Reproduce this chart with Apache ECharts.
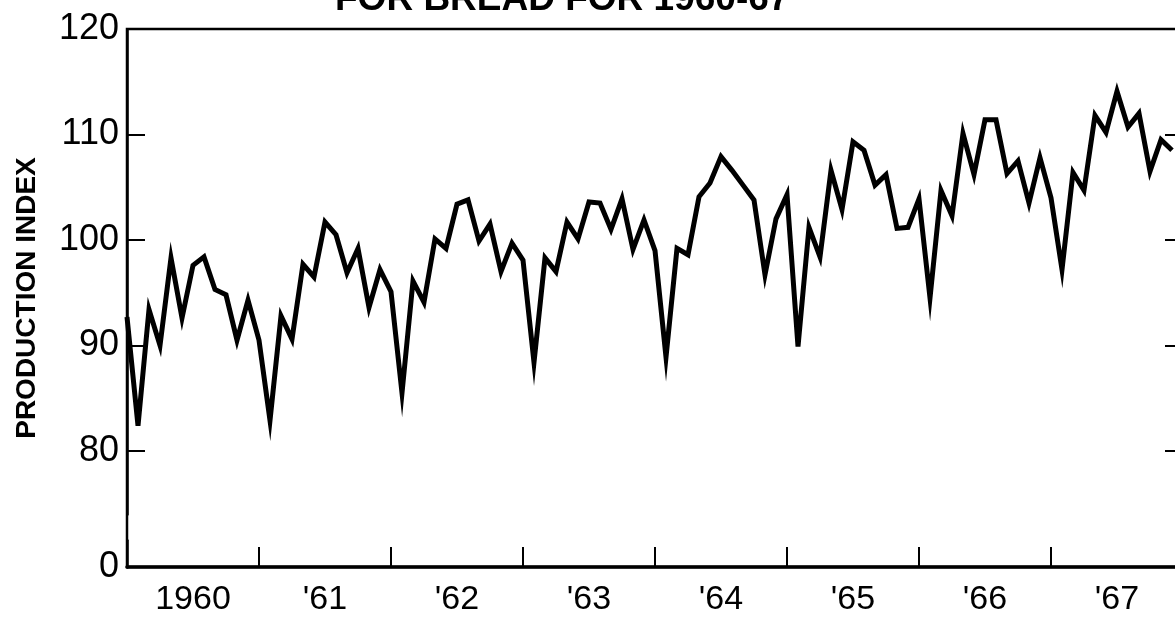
<!DOCTYPE html>
<html lang="en">
<head>
<meta charset="UTF-8">
<title>Production index for bread 1960-67</title>
<script src="https://cdn.jsdelivr.net/npm/echarts@6.0.0/dist/echarts.min.js"></script>
<style>
    html, body { margin: 0; padding: 0; background: #fff; }
    #chart { width: 1175px; height: 628px; }
</style>
</head>
<body>
<div id="chart"></div>
<script type="text/javascript">
    // monthly production index, Jan..Dec
    var v1960 = [92.7, 82.4, 93.4, 90.0, 98.3, 92.6, 97.6, 98.4, 95.3, 94.8, 90.5, 94.3];
    var v1961 = [90.5, 82.9, 92.8, 90.6, 97.7, 96.5, 101.7, 100.5, 96.9, 99.2, 93.6, 97.2];
    var v1962 = [95.1, 85.5, 96.1, 94.1, 100.1, 99.2, 103.4, 103.8, 99.9, 101.5, 97.0, 99.7];
    var v1963 = [98.1, 88.4, 98.3, 97.0, 101.7, 100.1, 103.6, 103.5, 101.0, 103.9, 99.1, 101.9];
    var v1964 = [99.0, 88.9, 99.2, 98.6, 104.1, 105.4, 107.9, 106.6, 105.2, 103.8, 96.7, 102.0];
    var v1965 = [104.3, 89.9, 101.2, 98.4, 106.6, 102.9, 109.3, 108.5, 105.2, 106.2, 101.1, 101.2];
    var v1966 = [103.9, 94.5, 104.7, 102.3, 110.1, 106.2, 111.4, 111.4, 106.3, 107.5, 103.5, 107.8];
    var v1967 = [104.0, 97.2, 106.4, 104.7, 111.8, 110.2, 114.1, 110.7, 112.0, 106.5, 109.5, 108.5];

    var years = [1960, 1961, 1962, 1963, 1964, 1965, 1966, 1967];
    var yearLabels = ['1960', "'61", "'62", "'63", "'64", "'65", "'66", "'67"];
    var yTickValues = [80, 90, 100, 110];
    var yLabelValues = [0, 80, 90, 100, 110, 120];

    var byYear = [v1960, v1961, v1962, v1963, v1964, v1965, v1966, v1967];
    var points = [];
    years.forEach(function (yr, k) {
        byYear[k].forEach(function (v, m) {
            points.push([yr + m / 12, v]);
        });
    });

    var numFont = 'Liberation Sans';
    var yBase = {
        type: 'value',
        min: 0,
        max: 120,
        interval: 10,
        breaks: [{ start: 2.5, end: 74, gap: 2.5 }],
        breakArea: { show: false },
        splitLine: { show: false },
        axisLine: { show: true, lineStyle: { color: '#000', width: 2.5 } },
        axisTick: {
            show: true, inside: true, length: 18,
            customValues: yTickValues,
            lineStyle: { color: '#000', width: 2 }
        }
    };

    var myChart = echarts.init(document.getElementById('chart'));
    myChart.setOption({
        backgroundColor: '#fff',
        animation: false,
        title: {
            text: 'FOR BREAD FOR 1960-67',
            left: 330,
            top: -24,
            textStyle: {
                fontFamily: numFont, fontWeight: 'bold', fontSize: 37,
                lineHeight: 37, color: '#000'
            }
        },
        grid: {
            left: 127, top: 29, right: -8, bottom: 61,
            outerBoundsMode: 'none',
            show: true, borderColor: '#000', borderWidth: 2.5,
            backgroundColor: 'transparent'
        },
        xAxis: [
            {
                type: 'value',
                min: 1960,
                max: 1968,
                interval: 1,
                splitLine: { show: false },
                axisLine: { lineStyle: { color: '#000', width: 3.5 } },
                axisTick: { inside: true, length: 20, lineStyle: { color: '#000', width: 2 } },
                axisLabel: { show: false }
            },
            {
                type: 'category',
                data: yearLabels,
                position: 'bottom',
                boundaryGap: true,
                axisLine: { show: false },
                axisTick: { show: false },
                axisLabel: {
                    margin: 16, color: '#000', fontFamily: numFont, fontSize: 34
                }
            }
        ],
        yAxis: [
            echarts.util.merge({
                position: 'left',
                name: 'PRODUCTION INDEX',
                nameLocation: 'middle',
                nameRotate: 90,
                nameGap: 86,
                nameTextStyle: {
                    color: '#000', fontFamily: numFont, fontWeight: 'bold', fontSize: 28
                },
                axisLabel: {
                    color: '#000', fontFamily: numFont, fontSize: 36, margin: 8,
                    customValues: yLabelValues
                }
            }, yBase, true),
            echarts.util.merge({
                position: 'right',
                axisLabel: { show: false }
            }, yBase, true)
        ],
        series: [{
            type: 'line',
            xAxisIndex: 0,
            yAxisIndex: 0,
            data: points,
            showSymbol: false,
            lineStyle: { color: '#000', width: 5, join: 'miter' },
            z: 5
        }]
    });
</script>
</body>
</html>
